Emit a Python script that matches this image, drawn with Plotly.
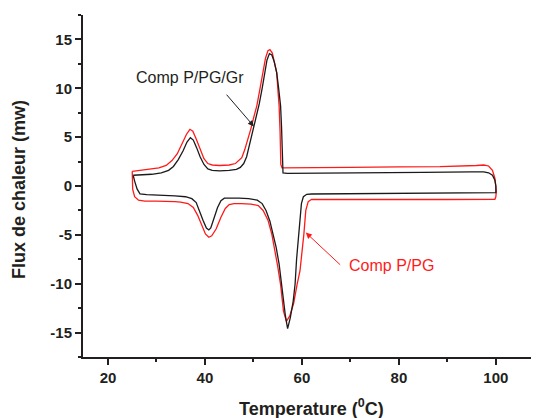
import plotly.graph_objects as go

# Comp P/PG/Gr (black) closed DSC loop: heating (upper) then cooling (lower)
black_x = [25.2, 27, 29, 31, 32.5, 33.5, 34.5, 35.5, 36.3, 37.0, 37.6, 38.3, 39.0, 39.8, 40.6, 41.5, 43, 45, 46.5, 47.3,
           48.0, 48.6, 49.1, 49.6, 50.1, 50.6, 51.2, 51.8, 52.3, 52.8, 53.3, 53.8, 54.3, 54.8, 55.2, 55.6, 55.8, 55.9,
           56.0, 56.1, 57, 65, 75, 85, 95, 97.5, 98.5, 99.3, 99.8, 100, 100,
           90, 80, 70, 62, 61, 60.3, 59.9, 59.6, 59.3, 58.9, 58.6, 58.2, 57.6, 57.05, 56.6, 56.2, 55.8, 55.3, 54.7,
           54.1, 53.4, 52.6, 51.8, 50.8, 49, 47, 45, 44, 43.3, 42.6, 41.8, 41.2, 40.8, 40.3, 39.6, 38.9, 38.2, 37.3,
           36, 33.8, 30, 28, 26.6, 26.0, 25.5, 25.2]
black_y = [1.10, 1.15, 1.2, 1.35, 1.6, 2.0, 2.7, 3.6, 4.5, 4.95, 4.7, 3.9, 3.0, 2.2, 1.75, 1.6, 1.55, 1.6, 1.7, 1.9,
           2.3, 3.0, 4.0, 5.0, 6.0, 7.2, 8.4, 10.0, 11.5, 12.9, 13.55, 13.4, 12.7, 11.6, 10.0, 8.2, 6.0, 4.0,
           2.0, 1.35, 1.3, 1.35, 1.38, 1.4, 1.45, 1.45, 1.35, 1.1, 0.6, 0.0, -0.68,
           -0.7, -0.72, -0.78, -0.82, -0.85, -1.1, -1.8, -3.5, -5.0, -7.5, -10.0, -11.8, -13.5, -14.6, -13.3, -11.5,
           -10.0, -8.0, -6.3, -4.95, -3.6, -2.5, -1.8, -1.45, -1.3, -1.25, -1.2, -1.25, -1.5, -2.2, -3.4, -4.3, -4.5,
           -4.3, -3.5, -2.5, -1.7, -1.3, -1.1, -1.02, -0.95, -0.88, -0.8, -0.3, 0.5, 1.1]

# Comp P/PG (red) closed DSC loop
red_x = [25.0, 27, 29, 30.5, 32, 33.2, 34.3, 35.3, 36.2, 36.9, 37.5, 38.2, 39.0, 39.8, 40.6, 41.5, 43, 45, 46.3, 47.0,
         47.6, 48.2, 48.9, 49.5, 50.1, 50.7, 51.3, 51.9, 52.5, 53.0, 53.4, 53.9, 54.4, 54.8, 55.1, 55.3, 55.5, 55.6,
         55.65, 55.9, 60, 70, 80, 88.5, 96, 97.5, 98.5, 99.3, 99.8, 100.1, 100.0, 99.8,
         90, 80, 70, 63, 62, 61.3, 60.8, 60.4, 60.0, 59.6, 59.0, 58.3, 57.5, 56.8, 56.2, 55.6, 55.0, 54.4, 53.8,
         53.0, 52.0, 51.0, 49.5, 47.5, 46, 45, 44.2, 43.3, 42.3, 41.4, 40.8, 40.1, 39.3, 38.5, 37.6, 36.5, 35,
         33.8, 30, 27.6, 26.3, 25.5, 25.1, 25.0, 25.0]
red_y = [1.5, 1.6, 1.7, 1.85, 2.1, 2.6, 3.3, 4.3, 5.3, 5.8, 5.6, 4.8, 3.7, 2.8, 2.3, 2.15, 2.1, 2.15, 2.3, 2.6,
         2.9, 3.7, 4.8, 5.9, 7.1, 8.2, 9.8, 11.6, 13.1, 13.85, 13.95, 13.6, 12.6, 11.6, 9.5, 8.2, 5.5, 3.5,
         2.2, 1.85, 1.85, 1.9, 1.95, 1.98, 2.1, 2.15, 2.05, 1.6, 0.8, -0.5, -1.1, -1.36,
         -1.38, -1.38, -1.38, -1.38, -1.36, -1.6, -2.5, -4.95, -7.0, -8.7, -10.1, -12.0, -13.3, -13.85, -12.8,
         -10.1, -8.2, -6.5, -4.95, -3.5, -2.5, -2.0, -1.85, -1.8, -1.8, -1.9, -2.3, -3.2, -4.4, -5.1, -5.25,
         -4.9, -4.0, -3.0, -2.2, -1.8, -1.65, -1.6, -1.55, -1.54, -1.45, -1.1, -0.34, 0.8, 1.5]

x_ticks = [20, 40, 60, 80, 100]
x_labels = ["20", "40", "60", "80", "100"]
y_ticks = [-15, -10, -5, 0, 5, 10, 15]
y_labels = ["-15", "-10", "-5", "0", "5", "10", "15"]

FONT = "Liberation Sans, Arial, sans-serif"
AX = "#231f20"

fig = go.Figure()
fig.add_trace(go.Scatter(x=red_x, y=red_y, mode="lines",
                         line=dict(color="#ff1a1a", width=1.3), showlegend=False))
fig.add_trace(go.Scatter(x=black_x, y=black_y, mode="lines",
                         line=dict(color="#1a1a1a", width=1.3), showlegend=False))

axis_common = dict(showline=True, linewidth=2, linecolor=AX, ticks="outside", tickwidth=2,
                   tickcolor=AX, showgrid=False, zeroline=False,
                   tickfont=dict(family=FONT, size=15, color=AX, weight="bold"))

fig.update_xaxes(range=[14.85, 108.9], tickvals=x_ticks, ticktext=x_labels, ticklen=6,
                 minor=dict(dtick=10, tick0=0, ticks="outside", ticklen=3, tickwidth=2, tickcolor=AX),
                 **axis_common)
fig.update_yaxes(range=[-17.5, 17.5], tickvals=y_ticks, ticktext=y_labels, ticklen=6,
                 minor=dict(dtick=2.5, tick0=0, ticks="outside", ticklen=3, tickwidth=2, tickcolor=AX),
                 **axis_common)

annotations = [
    dict(text="Temperature (<sup>0</sup>C)", xref="paper", yref="paper", x=0.5, y=-0.148,
         xanchor="center", yanchor="middle", showarrow=False,
         font=dict(family=FONT, size=18, color=AX, weight="bold")),
    dict(text="Flux de chaleur (mw)", xref="paper", yref="paper", x=-0.139, y=0.49,
         xanchor="center", yanchor="middle", showarrow=False, textangle=-90,
         font=dict(family=FONT, size=18, color=AX, weight="bold")),
    dict(text="Comp P/PG/Gr", x=36.97, y=11.09, xref="x", yref="y", showarrow=False,
         font=dict(family=FONT, size=16, color="#231f20")),
    dict(text="", x=50.1, y=6.1, ax=44.2, ay=9.5, xref="x", yref="y", axref="x", ayref="y",
         showarrow=True, arrowhead=2, arrowsize=1.2, arrowwidth=1, arrowcolor="#231f20", standoff=0),
    dict(text="Comp P/PG", x=78.4, y=-8.1, xref="x", yref="y", showarrow=False,
         font=dict(family=FONT, size=16, color="#ff1a1a")),
    dict(text="", x=60.8, y=-4.77, ax=68.2, ay=-8.2, xref="x", yref="y", axref="x", ayref="y",
         showarrow=True, arrowhead=2, arrowsize=1.2, arrowwidth=1, arrowcolor="#ff1a1a", standoff=0),
]

# page body has an 8px default margin; size the figure so it ends at the window edge
fig.update_layout(width=531, height=410, margin=dict(l=75, r=0, t=7, b=61),
                  paper_bgcolor="white", plot_bgcolor="white",
                  font=dict(family=FONT), annotations=annotations)

fig.write_html("out.html")
